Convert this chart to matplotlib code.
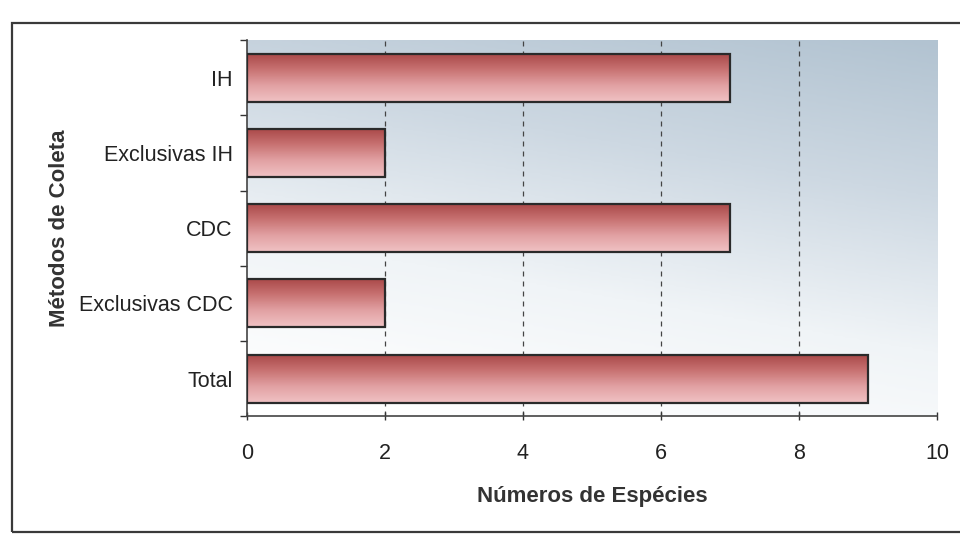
import numpy as np
import matplotlib
matplotlib.use("Agg")
import matplotlib.pyplot as plt
from matplotlib.colors import LinearSegmentedColormap
from matplotlib.patches import Rectangle

plt.rcParams['font.family'] = ['Liberation Sans', 'DejaVu Sans']

categories = ["IH", "Exclusivas IH", "CDC", "Exclusivas CDC", "Total"]
values = [7, 2, 7, 2, 9]
xticks = [0, 2, 4, 6, 8, 10]

fig = plt.figure(figsize=(9.6, 5.37), dpi=100)
fig.patch.set_facecolor("white")

# outer chart frame
fig.patches.append(Rectangle((0.012, 0.01), 1.2, 0.948, transform=fig.transFigure,
                             fill=False, edgecolor="#3a3a3a", linewidth=1.6, zorder=0))

ax = fig.add_axes([0.257, 0.225, 0.719, 0.70])
n = len(categories)

# plot-area gradient: bluish gray at top-right fading to white at bottom-left
gx, gy = np.meshgrid(np.linspace(0, 1, 200), np.linspace(0, 1, 200))
t = np.clip(0.8 * gy + 0.25 * gx - 0.05, 0, 1)
bg_cmap = LinearSegmentedColormap.from_list("bg", ["#ffffff", "#f0f4f7", "#cdd8e2", "#b2c3d1"])
ax.imshow(t, cmap=bg_cmap, extent=[0, 1, 0, 1], origin="lower", aspect="auto",
          transform=ax.transAxes, zorder=0, interpolation="bilinear")

for xv in xticks[1:-1]:
    ax.axvline(xv, color="#444444", linestyle=(0, (4, 4)), linewidth=0.9, zorder=1)

# bars with a vertical gradient: deep red on top, pale pink underneath
bar_h = 0.64
bar_cmap = LinearSegmentedColormap.from_list("bar", ["#a94848", "#c87272", "#e2a2a4", "#f0c2c4"])
grad = np.linspace(0, 1, 100).reshape(-1, 1)
for i, v in enumerate(values):
    y_top, y_bot = i - bar_h / 2, i + bar_h / 2
    ax.imshow(grad, cmap=bar_cmap, extent=[0, v, y_bot, y_top], origin="upper",
              aspect="auto", zorder=2, interpolation="bilinear")
    ax.barh(i, v, height=bar_h, facecolor="none", edgecolor="#2a2a2a",
            linewidth=1.6, zorder=3)

ax.set_xlim(0, 10)
ax.set_ylim(n - 0.5, -0.5)

ax.set_yticks(range(n))
ax.set_yticklabels(categories, fontsize=15.5, color="#222222")
ax.set_yticks(np.arange(-0.5, n, 1.0), minor=True)
ax.tick_params(axis="y", which="major", length=0, pad=10)
ax.tick_params(axis="y", which="minor", length=5, width=1.0, direction="out", color="#333333")

ax.set_xticks(xticks)
ax.set_xticklabels([str(x) for x in xticks], fontsize=15.5, color="#222222")
ax.tick_params(axis="x", length=6, width=1.0, direction="inout", color="#333333", pad=16)

for s in ["top", "right"]:
    ax.spines[s].set_visible(False)
for s in ["left", "bottom"]:
    ax.spines[s].set_color("#444444")
    ax.spines[s].set_linewidth(1.2)

ax.set_xlabel("Números de Espécies", fontsize=16, fontweight="bold", color="#333333", labelpad=16)
ax.set_ylabel("Métodos de Coleta", fontsize=16, fontweight="bold", color="#333333", labelpad=6)

fig.savefig("out.png", dpi=100)
